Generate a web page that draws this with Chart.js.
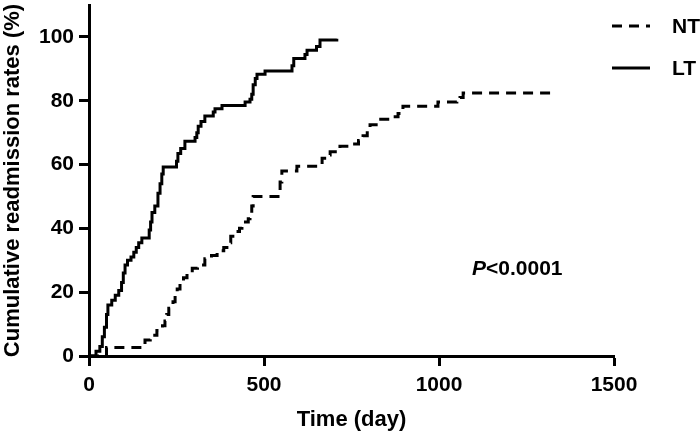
<!DOCTYPE html>
<html>
<head>
<meta charset="utf-8">
<script src="https://cdn.jsdelivr.net/npm/chart.js@4/dist/chart.umd.min.js"></script>
<style>
  html, body { margin: 0; padding: 0; background: #fff; }
</style>
</head>
<body>
<canvas id="myChart" width="700" height="435"></canvas>
<script>
// data (day, cumulative %)
const ltDays  = [0, 20, 31, 38, 44, 50, 54, 65, 75, 85, 93, 98, 103, 110, 120, 128, 135, 142, 151, 172, 176, 180, 188, 197, 203, 208, 212, 250, 254, 262, 274, 303, 308, 312, 320, 331, 355, 360, 380, 446, 460, 465, 469, 475, 480, 503, 580, 585, 617, 623, 650, 660, 708];
const ltRates = [0, 1.5, 3, 6, 9, 13, 16, 17.5, 19, 20.5, 23, 26, 28.5, 30, 31, 32.5, 34, 35.5, 37, 39.5, 42, 45, 47, 51, 54, 57, 59.2, 61, 63.5, 65, 67.3, 68.5, 70, 72, 73.5, 75.2, 76.5, 77.5, 78.5, 79.6, 80.5, 82, 85, 87, 88.3, 89.3, 91, 93.2, 94.5, 95.8, 97, 99, 99.4];

const ntDays  = [0, 50, 160, 175, 194, 210, 217, 222, 228, 240, 246, 252, 260, 270, 280, 295, 310, 331, 350, 366, 385, 394, 405, 411, 430, 437, 455, 460, 465, 469, 540, 546, 551, 594, 660, 666, 680, 689, 717, 754, 770, 783, 795, 803, 826, 870, 883, 897, 989, 997, 1051, 1060, 1069, 1330];
const ntRates = [0, 2.7, 5, 6.5, 8, 9.5, 11, 13, 15, 17, 19, 21, 23, 24.5, 26, 27.5, 28.5, 30.5, 31.5, 33, 34, 35.5, 37.5, 39, 40, 42, 43, 44.5, 47, 50, 50.5, 54.5, 58, 59.5, 60, 62, 63, 64, 65.7, 66.4, 67.5, 69, 71, 72.5, 74.2, 75, 76, 78.3, 78.3, 79.6, 80, 81, 82.4, 82.4];

const xTicks = [0, 500, 1000, 1500];
const yTicks = [0, 20, 40, 60, 80, 100];
const seriesNames = ['NT', 'LT'];
const pText = '<0.0001';

const FONT = '"Liberation Sans", Arial, sans-serif';

function toPoints(xs, ys) {
  return xs.map((x, i) => ({ x: x, y: ys[i] }));
}

// legend + p value drawn by hand
const extras = {
  id: 'extras',
  afterDraw(chart) {
    const ctx = chart.ctx;
    ctx.save();
    const rows = [26, 68];
    chart.data.datasets.forEach((ds, i) => {
      ctx.beginPath();
      ctx.strokeStyle = ds.borderColor;
      ctx.lineWidth = ds.borderWidth;
      ctx.setLineDash(ds.borderDash || []);
      ctx.moveTo(612, rows[i]);
      ctx.lineTo(650, rows[i]);
      ctx.stroke();
      ctx.setLineDash([]);
      ctx.fillStyle = '#000';
      ctx.font = 'bold 21px ' + FONT;
      ctx.textAlign = 'left';
      ctx.textBaseline = 'middle';
      ctx.fillText(ds.label, 672, rows[i] + 1);
    });
    ctx.fillStyle = '#000';
    ctx.textBaseline = 'middle';
    ctx.font = 'italic bold 21px ' + FONT;
    ctx.fillText('P', 472, 269);
    const w = ctx.measureText('P').width;
    ctx.font = 'bold 21px ' + FONT;
    ctx.fillText(pText, 472 + w, 269);
    ctx.restore();
  }
};

const data = {
  datasets: [
    {
      label: seriesNames[0],
      data: toPoints(ntDays, ntRates),
      borderColor: '#000',
      borderWidth: 3,
      borderDash: [10, 7],
      stepped: true,
      pointRadius: 0,
      fill: false,
    },
    {
      label: seriesNames[1],
      data: toPoints(ltDays, ltRates),
      borderColor: '#000',
      borderWidth: 3,
      stepped: true,
      pointRadius: 0,
      fill: false,
    },
  ],
};

const config = {
  type: 'line',
  data: data,
  plugins: [extras],
  options: {
    responsive: false,
    animation: false,
    layout: { padding: { top: 5, right: 86, left: 0, bottom: 0 } },
    plugins: {
      legend: { display: false },
      tooltip: { enabled: false },
    },
    scales: {
      x: {
        type: 'linear',
        min: 0,
        max: 1500,
        afterBuildTicks: s => { s.ticks = xTicks.map(v => ({ value: v })); },
        afterFit: s => { s.height = 79; },
        grid: { drawOnChartArea: false, drawTicks: true, tickLength: 10, tickWidth: 3, color: '#000' },
        border: { display: true, width: 3, color: '#000' },
        ticks: { color: '#000', padding: 7, maxRotation: 0, callback: v => String(v), font: { family: FONT, size: 21, weight: 'bold' } },
        title: { display: true, text: 'Time (day)', color: '#000', padding: { top: 0, bottom: 2 }, font: { family: FONT, size: 22, weight: 'bold' } },
      },
      y: {
        min: 0,
        max: 110,
        afterBuildTicks: s => { s.ticks = yTicks.map(v => ({ value: v })); },
        afterFit: s => { s.width = 89; s.paddingTop = 0; s.paddingBottom = 0; },
        grid: { drawOnChartArea: false, drawTicks: true, tickLength: 10, tickWidth: 3, color: '#000' },
        border: { display: true, width: 3, color: '#000' },
        ticks: { color: '#000', padding: 5, callback: v => String(v), font: { family: FONT, size: 21, weight: 'bold' } },
        title: { display: true, text: 'Cumulative readmission rates (%)', color: '#000', padding: { top: 0, bottom: 0 }, font: { family: FONT, size: 22, weight: 'bold' } },
      },
    },
  },
};

const myChart = new Chart('myChart', config);
</script>
</body>
</html>
